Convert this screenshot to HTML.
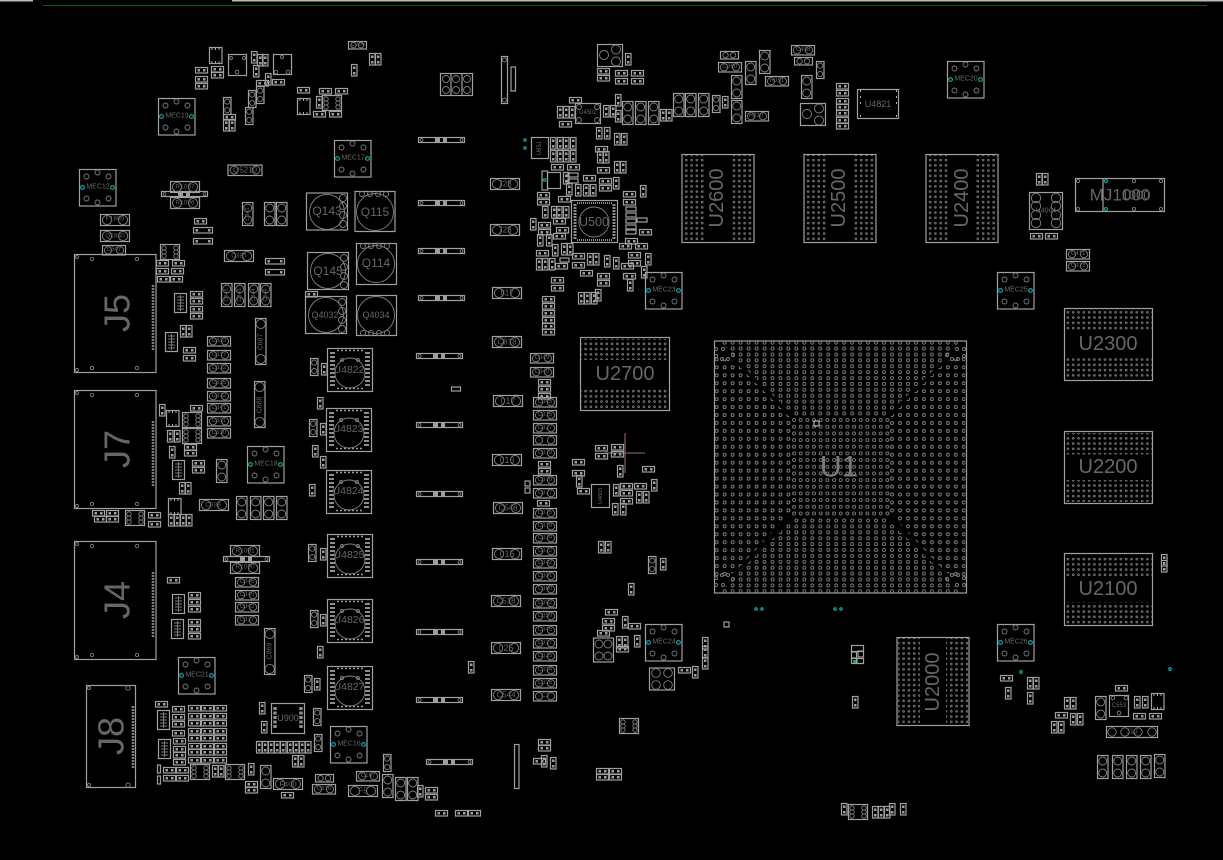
<!DOCTYPE html>
<html><head><meta charset="utf-8"><title>PCB layout</title>
<style>
html,body{margin:0;padding:0;background:#000;width:1223px;height:860px;overflow:hidden}
svg{display:block}
text{font-family:"Liberation Sans",sans-serif;fill:#676767;text-anchor:middle;dominant-baseline:central}
.s{fill:none;stroke:#a0a0a0;stroke-width:1.2}
.n{fill:none;stroke:#808080;stroke-width:.9}
.p{fill:#9e9e9e;stroke:none}
.tl{fill:none;stroke:#0b9a98;stroke-width:1.3}
</style></head><body>
<svg width="1223" height="860" viewBox="0 0 1223 860" xmlns="http://www.w3.org/2000/svg">
<defs>
<g id="h"><rect x=".5" y=".5" width="12" height="5.5" class="s"/><rect x="2.5" y="2" width="2.5" height="2.5" class="p"/><rect x="8" y="2" width="2.5" height="2.5" class="p"/></g>
<g id="v"><rect x=".5" y=".5" width="5.5" height="11.5" class="s"/><rect x="2" y="2.5" width="2.5" height="2.5" class="p"/><rect x="2" y="8" width="2.5" height="2.5" class="p"/></g>
<g id="u"><rect x=".5" y=".5" width="7.5" height="17" class="s"/><circle cx="4.2" cy="4.6" r="2.6" class="n"/><circle cx="4.2" cy="13" r="2.6" class="n"/></g>
<g id="w"><rect x=".5" y=".5" width="19" height="5.5" class="s"/><rect x="2.5" y="2" width="2.5" height="2.5" class="p"/><rect x="15" y="2" width="2.5" height="2.5" class="p"/></g>
<g id="t"><rect x=".5" y=".5" width="10.5" height="23" class="s"/><circle cx="5.7" cy="6" r="4" class="n"/><circle cx="5.7" cy="18" r="4" class="n"/></g>
<g id="c"><rect x=".5" y=".5" width="23" height="9.5" class="s"/><circle cx="6" cy="5.2" r="3.6" class="n"/><circle cx="18" cy="5.2" r="3.6" class="n"/></g>
<g id="C"><rect x=".5" y=".5" width="29" height="11" class="s"/><circle cx="7" cy="6" r="4.6" class="n"/><circle cx="23" cy="6" r="4.6" class="n"/></g>
<g id="f"><rect x=".5" y=".5" width="18" height="7.5" class="s"/><circle cx="5.5" cy="4.2" r="2.7" class="n"/><circle cx="13" cy="4.2" r="2.7" class="n"/></g>
<g id="T"><rect x=".5" y=".5" width="10.5" height="46" class="s"/><circle cx="5.7" cy="6" r="4.6" class="n"/><circle cx="5.7" cy="41" r="4.6" class="n"/></g>
<g id="l"><rect x=".5" y=".5" width="46" height="5" class="s"/><circle cx="3.5" cy="3" r="1.4" class="n"/><circle cx="43.5" cy="3" r="1.4" class="n"/><rect x="17" y="1" width="5" height="4" class="p"/><rect x="25" y="1" width="4" height="4" class="p"/></g>
<g id="i"><rect x=".5" y=".5" width="19" height="15" class="s"/><circle cx="4" cy="4" r="2.2" class="n"/><circle cx="4" cy="8" r="2.2" class="n"/><circle cx="4" cy="12" r="2.2" class="n"/><circle cx="16" cy="4" r="2.2" class="n"/><circle cx="16" cy="8" r="2.2" class="n"/><circle cx="16" cy="12" r="2.2" class="n"/></g>
<g id="j"><rect x=".5" y=".5" width="12" height="19" class="s"/><path d="M3 4h7M3 7h7M3 10h7M3 13h7M3 16h7M6.5 2v16" class="n"/></g>
<g id="o"><rect x=".5" y=".5" width="12.5" height="16" class="s"/><path d="M3 1v2M6.5 1v2M10 1v2M3 14v2M6.5 14v2M10 14v2" stroke="#aaa" fill="none"/></g>
<g id="m"><rect x=".5" y=".5" width="36.5" height="36.5" class="s"/><circle cx="7.5" cy="7.5" r="2.5" class="n"/><circle cx="18.5" cy="3.5" r="2.5" class="n"/><circle cx="29.5" cy="7.5" r="2.5" class="n"/><circle cx="7.5" cy="29.5" r="2.5" class="n"/><circle cx="18.5" cy="33.5" r="2.5" class="n"/><circle cx="29.5" cy="29.5" r="2.5" class="n"/><circle cx="3.5" cy="18.5" r="1.9" class="tl"/><circle cx="33.5" cy="18.5" r="1.9" class="tl"/></g>
<g id="q"><rect x=".5" y=".5" width="45" height="43" class="s"/><circle cx="23" cy="25" r="15" class="n"/><circle cx="15" cy="12" r="1.5" class="n"/><circle cx="31" cy="12" r="1.5" class="n"/><path d="M3 5h5M3 9h5M3 13h5M3 17h5M3 21h5M3 25h5M3 29h5M3 33h5M3 37h5M38 5h5M38 9h5M38 13h5M38 17h5M38 21h5M38 25h5M38 29h5M38 33h5M38 37h5" stroke="#8e8e8e" stroke-width="2" fill="none"/><path d="M10 2.5h26M10 40.5h26" stroke="#9a9a9a" stroke-width="1.5" stroke-dasharray="2 2" fill="none"/></g>
<g id="b"><rect x=".5" y=".5" width="25" height="22" class="s"/><circle cx="7" cy="11" r="4.5" class="n"/><circle cx="19" cy="5.5" r="4.5" class="n"/><circle cx="19" cy="17.5" r="4.5" class="n"/></g>
<g id="J"><rect x=".5" y=".5" width="81.5" height="118" class="s"/><circle cx="3" cy="3" r="1.5" class="n"/><circle cx="18" cy="5" r="1.7" class="n"/><circle cx="63" cy="5" r="1.7" class="n"/><circle cx="3" cy="116" r="1.5" class="n"/><circle cx="18" cy="114" r="1.7" class="n"/><circle cx="63" cy="114" r="1.7" class="n"/><path d="M79 31v66" stroke="#808080" stroke-width="2.6" stroke-dasharray="2 1" fill="none"/></g>
<pattern id="d" width="5.3" height="5.25" patternUnits="userSpaceOnUse"><circle cx="2.6" cy="2.6" r="1" fill="#3a3a3a" stroke="#949494" stroke-width=".6"/></pattern>
<pattern id="pa" x="712.7" y="419" width="7.97" height="7.95" patternUnits="userSpaceOnUse"><circle cx="3.98" cy="3.98" r="1.5" fill="none" stroke="#808080" stroke-width=".9"/></pattern>
<pattern id="pb" x="712.7" y="339.7" width="7.97" height="5.9" patternUnits="userSpaceOnUse"><circle cx="3.98" cy="2.95" r="1.5" fill="none" stroke="#808080" stroke-width=".9"/></pattern>
<pattern id="pb2" x="712.7" y="588.35" width="7.97" height="5.9" patternUnits="userSpaceOnUse"><circle cx="3.98" cy="2.95" r="1.5" fill="none" stroke="#808080" stroke-width=".9"/></pattern>
<pattern id="pc" x="790.7" y="416.7" width="6.67" height="6.67" patternUnits="userSpaceOnUse"><circle cx="3.33" cy="3.33" r="1.5" fill="none" stroke="#808080" stroke-width=".9"/></pattern>
<g id="k"><circle cx="716" cy="349" r="1.5" class="n"/><circle cx="723" cy="349" r="1.5" class="n"/><circle cx="716" cy="356" r="1.5" class="n"/><circle cx="722" cy="359" r="1.5" class="n"/><circle cx="728" cy="359" r="1.5" class="n"/><circle cx="733" cy="355" r="1.5" class="n"/></g>
</defs>
<rect width="1223" height="860" fill="#000"/>
<rect x="0" y="0" width="33" height="1.5" fill="#bbb"/><rect x="232" y="0" width="991" height="1.5" fill="#bbb"/><rect x="43" y="5" width="1164" height="1" fill="#0d5a12"/>

<!-- U1 -->
<rect x="714.5" y="341" width="252" height="252" class="s"/>
<polygon points="714.7,355 735,362 790.7,418 790.7,512.7 735,572 714.7,580" fill="url(#pa)"/>
<polygon points="965.3,355 945,362 889.3,418 889.3,512.7 945,572 965.3,580" fill="url(#pa)"/>
<polygon points="720,341 960,341 945,359 885,417 795,417 736.7,360" fill="url(#pb)"/>
<polygon points="720,593 960,593 945,575 885,517 795,517 736.7,574" fill="url(#pb2)"/>
<rect x="791" y="417" width="99" height="100" fill="url(#pc)"/>
<use href="#k"/><use href="#k" transform="translate(1680 0) scale(-1 1)"/><use href="#k" transform="translate(0 934) scale(1 -1)"/><use href="#k" transform="translate(1680 934) scale(-1 -1)"/>
<rect x="814" y="421" width="5" height="5" fill="none" stroke="#ccc"/>
<text x="839" y="467" font-size="30" style="fill:#7a7a7a">U1</text>

<!-- memory -->
<rect x="580.5" y="337.5" width="89" height="73" class="s"/><rect x="581" y="339" width="88" height="21" fill="url(#d)"/><rect x="581" y="387" width="88" height="22" fill="url(#d)"/><text x="625" y="374" font-size="20">U2700</text>
<rect x="1064.5" y="308.5" width="88" height="72" class="s"/><rect x="1065" y="310" width="87" height="21.5" fill="url(#d)"/><rect x="1065" y="357" width="87" height="22" fill="url(#d)"/><text x="1108" y="344" font-size="20">U2300</text>
<rect x="1064.5" y="431.5" width="88" height="72" class="s"/><rect x="1065" y="433" width="87" height="21.5" fill="url(#d)"/><rect x="1065" y="480" width="87" height="22" fill="url(#d)"/><text x="1108" y="467" font-size="20">U2200</text>
<rect x="1064.5" y="553.5" width="88" height="72" class="s"/><rect x="1065" y="555" width="87" height="21.5" fill="url(#d)"/><rect x="1065" y="602" width="87" height="22" fill="url(#d)"/><text x="1108" y="589" font-size="20">U2100</text>
<rect x="682" y="154.5" width="72" height="88" class="s"/><rect x="683" y="155" width="22" height="87" fill="url(#d)"/><rect x="731" y="155" width="22" height="87" fill="url(#d)"/><text transform="translate(717 198) rotate(-90)" font-size="20">U2600</text>
<rect x="804" y="154.5" width="72" height="88" class="s"/><rect x="805" y="155" width="22" height="87" fill="url(#d)"/><rect x="853" y="155" width="22" height="87" fill="url(#d)"/><text transform="translate(839 198) rotate(-90)" font-size="20">U2500</text>
<rect x="926" y="154.5" width="72" height="88" class="s"/><rect x="927" y="155" width="22" height="87" fill="url(#d)"/><rect x="975" y="155" width="22" height="87" fill="url(#d)"/><text transform="translate(962 198) rotate(-90)" font-size="20">U2400</text>
<rect x="897" y="637.5" width="72" height="88" class="s"/><rect x="898" y="638" width="22" height="87" fill="url(#d)"/><rect x="946" y="638" width="22" height="87" fill="url(#d)"/><text transform="translate(933 682) rotate(-90)" font-size="20">U2000</text>

<!-- connectors -->
<use href="#J" x="74" y="254"/><text transform="translate(117 313) rotate(-90)" font-size="36">J5</text>
<use href="#J" x="74" y="390"/><text transform="translate(117 449) rotate(-90)" font-size="36">J7</text>
<use href="#J" x="74" y="541"/><text transform="translate(117 600) rotate(-90)" font-size="36">J4</text>
<rect x="86.5" y="685.5" width="49" height="102" class="s"/><circle cx="89" cy="688" r="1.5" class="n"/><circle cx="128" cy="688" r="2.2" class="n"/><circle cx="89" cy="785" r="1.5" class="n"/><circle cx="128" cy="785" r="2.2" class="n"/><path d="M133 706v62" stroke="#808080" stroke-width="2.6" stroke-dasharray="2 1" fill="none"/><text transform="translate(111 736) rotate(-90)" font-size="36">J8</text>

<!-- MEC -->
<use href="#m" x="158" y="98"/><text x="177" y="116" font-size="7">MEC19</text>
<use href="#m" x="334" y="140"/><text x="353" y="158" font-size="7">MEC17</text>
<use href="#m" x="79" y="169"/><text x="98" y="187" font-size="7">MEC12</text>
<use href="#m" x="247" y="446"/><text x="266" y="464" font-size="7">MEC18</text>
<use href="#m" x="178" y="657"/><text x="197" y="675" font-size="7">MEC21</text>
<use href="#m" x="330" y="726"/><text x="349" y="744" font-size="7">MEC16</text>
<use href="#m" x="645" y="272"/><text x="664" y="290" font-size="7">MEC23</text>
<use href="#m" x="997" y="272"/><text x="1016" y="290" font-size="7">MEC25</text>
<use href="#m" x="947" y="61"/><text x="966" y="79" font-size="7">MEC20</text>
<use href="#m" x="645" y="624"/><text x="664" y="642" font-size="7">MEC24</text>
<use href="#m" x="997" y="624"/><text x="1016" y="642" font-size="7">MEC26</text>

<!-- inductors -->
<rect x="306.5" y="193" width="41" height="37" class="s"/><circle cx="327" cy="212" r="17.5" class="n"/><circle cx="343" cy="198" r="3.5" class="n"/><circle cx="343" cy="206" r="3.5" class="n"/><circle cx="343" cy="215" r="3.5" class="n"/><circle cx="343" cy="224" r="3.5" class="n"/><text x="327" y="211" font-size="12">Q143</text>
<rect x="355" y="191.5" width="40" height="40" class="s"/><circle cx="375" cy="212" r="18.5" class="n"/><circle cx="362" cy="194" r="2.5" class="n"/><circle cx="370" cy="194" r="2.5" class="n"/><circle cx="378" cy="194" r="2.5" class="n"/><circle cx="386" cy="194" r="2.5" class="n"/><text x="375" y="212" font-size="12">Q115</text>
<rect x="307.5" y="252.5" width="41" height="37" class="s"/><circle cx="328" cy="271" r="17.5" class="n"/><circle cx="344" cy="258" r="3.5" class="n"/><circle cx="344" cy="267" r="3.5" class="n"/><circle cx="344" cy="276" r="3.5" class="n"/><circle cx="344" cy="285" r="3.5" class="n"/><text x="328" y="271" font-size="12">Q145</text>
<rect x="356.5" y="243.5" width="40" height="41" class="s"/><circle cx="376" cy="264" r="18.5" class="n"/><circle cx="363" cy="246" r="2.5" class="n"/><circle cx="371" cy="246" r="2.5" class="n"/><circle cx="379" cy="246" r="2.5" class="n"/><circle cx="387" cy="246" r="2.5" class="n"/><text x="376" y="263" font-size="12">Q114</text>
<rect x="305.5" y="296.5" width="41" height="37" class="s"/><circle cx="326" cy="315" r="17.5" class="n"/><circle cx="342" cy="302" r="3.5" class="n"/><circle cx="342" cy="311" r="3.5" class="n"/><circle cx="342" cy="320" r="3.5" class="n"/><circle cx="342" cy="329" r="3.5" class="n"/><text x="325" y="315" font-size="9">Q4032</text>
<rect x="356.5" y="295.5" width="40" height="40" class="s"/><circle cx="376" cy="315" r="18.5" class="n"/><circle cx="363" cy="333" r="2.5" class="n"/><circle cx="371" cy="333" r="2.5" class="n"/><circle cx="379" cy="333" r="2.5" class="n"/><circle cx="387" cy="333" r="2.5" class="n"/><text x="376" y="315" font-size="9">Q4034</text>

<use href="#q" x="327" y="348"/><text x="349" y="370" font-size="10.5">U4822</text>
<use href="#q" x="326" y="408"/><text x="348" y="429" font-size="10.5">U4823</text>
<use href="#q" x="326" y="470"/><text x="348" y="491" font-size="10.5">U4824</text>
<use href="#q" x="327" y="534"/><text x="349" y="555" font-size="10.5">U4825</text>
<use href="#q" x="327" y="599"/><text x="349" y="620" font-size="10.5">U4826</text>
<use href="#q" x="327" y="666"/><text x="349" y="687" font-size="10.5">U4827</text>

<!-- long bars -->
<use href="#l" x="418" y="137"/><use href="#l" x="418" y="200"/><use href="#l" x="418" y="248"/><use href="#l" x="418" y="295"/>
<use href="#l" x="416" y="353"/><use href="#l" x="416" y="422"/><use href="#l" x="416" y="491"/><use href="#l" x="416" y="559"/><use href="#l" x="416" y="629"/><use href="#l" x="416" y="697"/>
<use href="#l" x="426" y="759"/>
<use href="#l" x="161" y="191"/><use href="#l" x="223" y="556"/>

<!-- cap column x491 -->
<use href="#C" x="490" y="178"/><text x="505" y="184" font-size="8">728</text>
<use href="#C" x="490" y="224"/><text x="505" y="230" font-size="8">728</text>
<use href="#C" x="492" y="287"/><text x="507" y="293" font-size="8">817</text>
<use href="#C" x="492" y="336"/><text x="507" y="342" font-size="8">C818</text>
<use href="#C" x="493" y="395"/><text x="508" y="401" font-size="9">017</text>
<use href="#C" x="492" y="454"/><text x="507" y="460" font-size="9">016</text>
<use href="#C" x="493" y="502"/><text x="508" y="508" font-size="8">C548</text>
<use href="#C" x="492" y="548"/><text x="507" y="554" font-size="9">015</text>
<use href="#C" x="491" y="595"/><text x="506" y="601" font-size="8">C518</text>
<use href="#C" x="491" y="642"/><text x="506" y="648" font-size="9">025</text>
<use href="#C" x="491" y="689"/><text x="506" y="695" font-size="8">C544</text>

<!-- cap column x533 -->
<use href="#c" x="530" y="353"/><text x="542" y="358" font-size="6">C349</text>
<use href="#c" x="530" y="367"/><text x="542" y="372" font-size="6">C340</text>
<use href="#c" x="533" y="397"/><use href="#c" x="533" y="410"/><use href="#c" x="533" y="423"/><use href="#c" x="533" y="435"/><use href="#c" x="533" y="448"/>
<use href="#c" x="533" y="475"/><use href="#c" x="533" y="488"/><use href="#c" x="533" y="508"/><use href="#c" x="533" y="521"/><use href="#c" x="533" y="533"/><use href="#c" x="533" y="546"/><use href="#c" x="533" y="558"/><use href="#c" x="533" y="571"/><use href="#c" x="533" y="584"/><use href="#c" x="533" y="598"/><use href="#c" x="533" y="611"/><use href="#c" x="533" y="625"/><use href="#c" x="533" y="638"/><use href="#c" x="533" y="651"/><use href="#c" x="533" y="665"/><use href="#c" x="533" y="678"/><use href="#c" x="533" y="691"/>
<text x="545" y="402" font-size="6">C345</text><text x="545" y="415" font-size="6">C315</text><text x="545" y="428" font-size="6">C327</text><text x="545" y="453" font-size="6">C379</text><text x="545" y="480" font-size="6">C378</text><text x="545" y="493" font-size="6">C377</text><text x="545" y="513" font-size="6">C375</text><text x="545" y="526" font-size="6">C319</text><text x="545" y="538" font-size="6">C374</text><text x="545" y="551" font-size="6">C372</text><text x="545" y="563" font-size="6">C342</text><text x="545" y="576" font-size="6">C301</text><text x="545" y="589" font-size="6">C360</text><text x="545" y="603" font-size="6">C302</text><text x="545" y="616" font-size="6">C359</text><text x="545" y="630" font-size="6">C345</text><text x="545" y="643" font-size="6">C337</text><text x="545" y="656" font-size="6">C335</text><text x="545" y="670" font-size="6">C334</text><text x="545" y="683" font-size="6">C326</text><text x="545" y="696" font-size="6">C3</text>
<use href="#h" x="542" y="296"/><use href="#h" x="542" y="303"/><use href="#h" x="542" y="310"/><use href="#h" x="542" y="317"/><use href="#h" x="542" y="323"/><use href="#h" x="542" y="329"/>
<use href="#h" x="538" y="379"/><use href="#h" x="538" y="386"/><use href="#h" x="538" y="393"/><use href="#h" x="538" y="461"/><use href="#h" x="538" y="468"/><use href="#h" x="537" y="500"/>
<rect x="451.5" y="387" width="9" height="4" class="s"/>
<rect x="525" y="481" width="5" height="5" class="s"/><rect x="525" y="488" width="5" height="5" class="s"/>
<use href="#v" x="468" y="661"/>

<!-- left cluster -->
<use href="#o" x="209" y="47"/>
<rect x="228.5" y="54.5" width="18" height="21" class="s"/><circle cx="231" cy="58" r="1.5" class="n"/><circle cx="244" cy="58" r="1.5" class="n"/><circle cx="237" cy="72" r="1.8" class="n"/>
<rect x="273.5" y="54.5" width="18" height="20" class="s"/><circle cx="282" cy="57" r="1.5" class="n"/><circle cx="276" cy="72" r="1.8" class="n"/><circle cx="288" cy="72" r="1.8" class="n"/>
<use href="#v" x="251" y="51"/><use href="#v" x="257" y="54"/><use href="#v" x="262" y="54"/><use href="#v" x="253" y="65"/><use href="#v" x="265" y="73"/><use href="#h" x="256" y="80"/><use href="#h" x="272" y="79"/>
<use href="#h" x="195" y="67"/><use href="#h" x="195" y="76"/><use href="#h" x="195" y="83"/><use href="#h" x="211" y="66"/><use href="#h" x="211" y="72"/>
<use href="#u" x="248" y="90"/><use href="#u" x="256" y="86"/><use href="#u" x="245" y="107"/><use href="#u" x="223" y="97"/><use href="#h" x="223" y="114"/><use href="#v" x="223" y="119"/><use href="#v" x="229" y="119"/>
<use href="#h" x="297" y="87"/><use href="#o" x="297" y="98"/><use href="#v" x="316" y="96"/><use href="#h" x="319" y="88"/><use href="#h" x="335" y="88"/><use href="#i" x="322" y="95"/><use href="#h" x="313" y="111"/><use href="#h" x="329" y="111"/>
<use href="#f" x="348" y="41"/><text x="358" y="45" font-size="6">C200</text><use href="#v" x="369" y="53"/><use href="#v" x="375" y="53"/><use href="#v" x="351" y="64"/>
<rect x="228" y="165" width="34" height="10.5" class="s"/><circle cx="234" cy="170" r="4" class="n"/><circle cx="256" cy="170" r="4" class="n"/><text x="245" y="170" font-size="8">Q5210</text>
<use href="#C" x="170" y="181"/><text x="185" y="187" font-size="6.5">R1097</text><use href="#C" x="170" y="197"/><text x="185" y="203" font-size="6.5">R1096</text>
<use href="#C" x="100" y="214"/><text x="115" y="219" font-size="6.5">F1800</text><use href="#C" x="100" y="230"/><text x="115" y="236" font-size="6.5">Q1840</text><use href="#c" x="102" y="245"/><text x="114" y="250" font-size="6">C347</text>
<use href="#t" x="242" y="202"/><text transform="translate(248 214) rotate(-90)" font-size="5.5">C842</text><use href="#t" x="264" y="202"/><use href="#t" x="276" y="202"/>
<use href="#h" x="194" y="218"/><use href="#w" x="193" y="227"/><use href="#w" x="193" y="238"/>
<use href="#i" x="160" y="244"/><use href="#h" x="156" y="260"/><use href="#h" x="172" y="260"/><use href="#h" x="156" y="268"/><use href="#h" x="171" y="268"/><use href="#h" x="157" y="276"/><use href="#h" x="170" y="276"/>
<use href="#j" x="174" y="293"/><use href="#h" x="190" y="291"/><use href="#h" x="190" y="298"/><use href="#h" x="190" y="306"/><use href="#h" x="190" y="313"/>
<use href="#C" x="224" y="250"/><text x="239" y="256" font-size="6.5">C385</text><use href="#w" x="265" y="258"/><use href="#w" x="265" y="269"/>
<use href="#t" x="221" y="283"/><text transform="translate(227 295) rotate(-90)" font-size="5.5">C845</text><use href="#t" x="234" y="283"/><text transform="translate(240 295) rotate(-90)" font-size="5.5">C848</text><use href="#t" x="248" y="283"/><text transform="translate(254 295) rotate(-90)" font-size="5.5">C844</text><use href="#t" x="260" y="283"/><text transform="translate(266 295) rotate(-90)" font-size="5.5">C846</text>
<use href="#j" x="165" y="332"/><use href="#v" x="180" y="325"/><use href="#v" x="186" y="325"/><use href="#h" x="183" y="347"/><use href="#h" x="183" y="355"/>
<use href="#T" x="255" y="318"/><text transform="translate(261 342) rotate(-90)" font-size="7">C687</text>
<use href="#T" x="254" y="381"/><text transform="translate(260 405) rotate(-90)" font-size="7">C688</text>
<use href="#T" x="264" y="628"/><text transform="translate(270 651) rotate(-90)" font-size="7">C869</text>
<use href="#c" x="207" y="336"/><use href="#c" x="207" y="350"/><use href="#c" x="207" y="363"/><use href="#c" x="207" y="378"/><use href="#c" x="207" y="391"/><use href="#c" x="207" y="403"/><use href="#c" x="207" y="416"/><use href="#c" x="207" y="428"/>
<text x="219" y="341" font-size="6">C333</text><text x="219" y="355" font-size="6">C317</text><text x="219" y="368" font-size="6">C332</text><text x="219" y="383" font-size="6">C335</text><text x="219" y="396" font-size="6">C332</text><text x="219" y="408" font-size="6">C341</text><text x="219" y="421" font-size="6">C331</text><text x="219" y="433" font-size="6">C330</text>
<use href="#h" x="305" y="291"/>
<use href="#u" x="310" y="358"/><use href="#v" x="321" y="363"/><use href="#v" x="317" y="397"/><use href="#u" x="309" y="419"/><use href="#v" x="320" y="423"/><use href="#v" x="312" y="445"/><use href="#v" x="320" y="456"/><use href="#v" x="309" y="484"/><use href="#u" x="308" y="544"/><use href="#v" x="320" y="548"/><use href="#u" x="310" y="610"/><use href="#v" x="320" y="614"/><use href="#v" x="317" y="646"/>

<use href="#v" x="159" y="404"/><use href="#h" x="190" y="405"/><use href="#o" x="166" y="410"/><use href="#i" x="182" y="412"/><use href="#i" x="182" y="428"/><use href="#v" x="167" y="430"/><use href="#v" x="174" y="430"/><use href="#v" x="169" y="446"/><use href="#h" x="184" y="444"/><use href="#h" x="184" y="450"/><use href="#j" x="172" y="460"/><use href="#h" x="192" y="460"/><use href="#h" x="192" y="467"/><use href="#t" x="216" y="459"/><use href="#v" x="179" y="482"/><use href="#v" x="185" y="482"/><use href="#o" x="168" y="498"/>
<use href="#C" x="199" y="499"/><text x="213" y="505" font-size="6.5">C838</text>
<use href="#h" x="92" y="510"/><use href="#h" x="106" y="510"/><use href="#h" x="94" y="516"/><use href="#h" x="106" y="516"/><use href="#i" x="125" y="510"/><use href="#h" x="148" y="512"/><use href="#h" x="148" y="521"/>
<use href="#v" x="168" y="514"/><use href="#v" x="174" y="514"/><use href="#v" x="180" y="514"/><use href="#v" x="186" y="514"/>
<use href="#t" x="236" y="496"/><use href="#t" x="250" y="496"/><use href="#t" x="263" y="496"/><use href="#t" x="276" y="496"/>
<use href="#C" x="230" y="545"/><text x="245" y="551" font-size="6.5">R1091</text><use href="#C" x="230" y="562"/><text x="245" y="567" font-size="6.5">R1090</text>
<use href="#c" x="235" y="577"/><use href="#c" x="235" y="590"/><use href="#c" x="235" y="602"/><use href="#c" x="235" y="615"/>
<text x="247" y="582" font-size="6">C346</text><text x="247" y="595" font-size="6">C345</text><text x="247" y="607" font-size="6">C342</text><text x="247" y="620" font-size="6">C337</text>
<use href="#h" x="167" y="577"/><use href="#j" x="172" y="594"/><use href="#j" x="171" y="619"/><use href="#h" x="188" y="592"/><use href="#h" x="188" y="599"/><use href="#h" x="188" y="606"/><use href="#h" x="188" y="619"/><use href="#h" x="188" y="626"/><use href="#h" x="188" y="633"/>

<!-- bottom-left -->
<use href="#h" x="155" y="701"/><use href="#h" x="172" y="706"/><use href="#h" x="172" y="714"/><use href="#j" x="157" y="710"/><use href="#h" x="172" y="721"/><use href="#h" x="172" y="730"/><use href="#j" x="158" y="739"/><use href="#h" x="173" y="738"/><use href="#h" x="173" y="746"/><use href="#h" x="173" y="752"/><use href="#h" x="173" y="759"/>
<use href="#h" x="188" y="705"/><use href="#h" x="201" y="705"/><use href="#h" x="214" y="705"/><use href="#h" x="188" y="713"/><use href="#h" x="201" y="713"/><use href="#h" x="214" y="713"/><use href="#h" x="188" y="720"/><use href="#h" x="201" y="720"/><use href="#h" x="214" y="720"/><use href="#h" x="188" y="728"/><use href="#h" x="201" y="728"/><use href="#h" x="214" y="728"/><use href="#h" x="188" y="735"/><use href="#h" x="201" y="735"/><use href="#h" x="214" y="735"/><use href="#h" x="188" y="743"/><use href="#h" x="201" y="743"/><use href="#h" x="214" y="743"/><use href="#h" x="188" y="749"/><use href="#h" x="201" y="749"/><use href="#h" x="214" y="749"/><use href="#h" x="188" y="757"/><use href="#h" x="201" y="757"/><use href="#h" x="214" y="757"/>
<rect x="157.5" y="765" width="3" height="8" class="s"/><rect x="157.5" y="776" width="3" height="8" class="s"/>
<use href="#h" x="163" y="767"/><use href="#h" x="176" y="767"/><use href="#h" x="163" y="775"/><use href="#h" x="176" y="775"/>
<use href="#i" x="190" y="764"/><use href="#i" x="225" y="764"/><use href="#v" x="212" y="765"/><use href="#v" x="218" y="765"/><use href="#v" x="248" y="763"/><use href="#t" x="260" y="765"/><use href="#h" x="245" y="781"/><use href="#h" x="245" y="787"/>
<use href="#C" x="273" y="778"/><text x="288" y="784" font-size="7.5">F400</text><use href="#h" x="281" y="792"/>
<use href="#f" x="315" y="774"/><use href="#c" x="312" y="784"/><text x="324" y="789" font-size="6">C316</text>
<use href="#C" x="348" y="785"/><text x="363" y="791" font-size="8">F5</text><use href="#c" x="356" y="771"/><text x="368" y="776" font-size="6">C167</text>
<rect x="271.5" y="703.5" width="33" height="30" class="s"/><path d="M275 707v22M301 707v22" stroke="#8e8e8e" stroke-width="3.5" stroke-dasharray="3 1.5" fill="none"/><text x="288" y="718" font-size="9">U900</text>
<use href="#v" x="259" y="702"/><use href="#v" x="261" y="721"/><use href="#u" x="304" y="675"/><use href="#v" x="314" y="678"/><use href="#u" x="313" y="708"/><use href="#u" x="314" y="734"/>
<use href="#v" x="256" y="741"/><use href="#v" x="262" y="741"/><use href="#v" x="268" y="741"/><use href="#v" x="274" y="741"/><use href="#v" x="280" y="741"/><use href="#v" x="287" y="741"/><use href="#v" x="293" y="741"/><use href="#v" x="299" y="741"/><use href="#v" x="305" y="741"/>
<use href="#v" x="292" y="755"/><use href="#v" x="298" y="755"/>
<use href="#u" x="383" y="754"/><use href="#t" x="382" y="774"/><use href="#t" x="395" y="777"/><use href="#t" x="407" y="777"/><use href="#v" x="417" y="785"/><use href="#h" x="425" y="787"/><use href="#h" x="425" y="794"/><use href="#h" x="435" y="810"/><use href="#h" x="455" y="810"/><use href="#h" x="468" y="810"/>

<!-- centre bottom -->
<rect x="514.5" y="744.5" width="4.5" height="44" class="s"/><use href="#h" x="538" y="739"/><use href="#h" x="538" y="745"/><use href="#h" x="533" y="758"/><use href="#v" x="541" y="755"/><use href="#v" x="550" y="757"/>
<use href="#h" x="596" y="768"/><use href="#h" x="609" y="768"/><use href="#h" x="596" y="774"/><use href="#h" x="609" y="774"/><use href="#i" x="619" y="718"/>

<!-- U500 region -->
<use href="#b" x="597" y="44"/><use href="#v" x="625" y="53"/><use href="#h" x="597" y="68"/><use href="#h" x="597" y="75"/><use href="#h" x="615" y="70"/><use href="#h" x="615" y="78"/><use href="#h" x="631" y="70"/><use href="#h" x="631" y="78"/>
<rect x="501.5" y="56.5" width="6" height="47" class="s"/><circle cx="504.5" cy="60" r="2" class="n"/><circle cx="504.5" cy="100" r="2" class="n"/><rect x="511" y="67" width="4.5" height="24" class="s"/>
<rect x="440.5" y="73.5" width="32" height="22" class="s"/><path d="M451 74v22M462 74v22" class="s"/><circle cx="446" cy="79" r="3.5" class="n"/><circle cx="446" cy="90" r="3.5" class="n"/><circle cx="456" cy="79" r="3.5" class="n"/><circle cx="456" cy="90" r="3.5" class="n"/><circle cx="467" cy="79" r="3.5" class="n"/><circle cx="467" cy="90" r="3.5" class="n"/>
<use href="#h" x="569" y="97"/><use href="#v" x="557" y="106"/><use href="#v" x="563" y="106"/><use href="#v" x="569" y="106"/>
<rect x="575.5" y="103.5" width="25" height="20" class="s"/><circle cx="579" cy="107" r="2.5" class="n"/><circle cx="597" cy="107" r="2.5" class="n"/><circle cx="579" cy="120" r="2.5" class="n"/><circle cx="597" cy="120" r="2.5" class="n"/><text x="588" y="113" font-size="6">U4502</text>
<use href="#h" x="559" y="121"/><use href="#v" x="603" y="105"/><use href="#v" x="610" y="105"/><use href="#v" x="615" y="94"/><use href="#v" x="615" y="110"/><use href="#t" x="622" y="101"/><use href="#t" x="635" y="101"/><use href="#t" x="648" y="101"/><use href="#v" x="660" y="109"/><use href="#v" x="666" y="109"/>
<use href="#v" x="596" y="127"/><use href="#v" x="604" y="127"/><use href="#v" x="614" y="133"/><use href="#v" x="621" y="133"/>
<rect x="531.5" y="137.5" width="17" height="21" class="s"/><text transform="translate(540 148) rotate(-90)" font-size="6">U851</text>
<use href="#v" x="550" y="137"/><use href="#v" x="557" y="137"/><use href="#v" x="563" y="137"/><use href="#v" x="570" y="137"/><use href="#v" x="550" y="150"/><use href="#v" x="557" y="150"/><use href="#v" x="563" y="150"/><use href="#v" x="570" y="150"/>
<use href="#h" x="595" y="146"/><use href="#v" x="597" y="151"/><use href="#v" x="603" y="151"/><use href="#v" x="620" y="161"/><use href="#v" x="614" y="161"/><use href="#h" x="551" y="164"/><use href="#h" x="567" y="164"/><use href="#h" x="597" y="167"/>
<rect x="542" y="171" width="5.5" height="19" class="s"/><rect x="547.5" y="172.5" width="13" height="16" class="s"/><rect x="568" y="173" width="10" height="4" class="s"/><rect x="568" y="179" width="10" height="4" class="s"/><use href="#v" x="563" y="172"/><use href="#h" x="583" y="175"/><use href="#v" x="566" y="183"/><use href="#h" x="537" y="192"/><use href="#h" x="537" y="199"/><use href="#h" x="558" y="196"/><use href="#v" x="575" y="184"/><use href="#v" x="583" y="184"/><use href="#v" x="590" y="184"/>
<use href="#h" x="599" y="178"/><use href="#h" x="599" y="185"/><use href="#v" x="613" y="177"/><use href="#v" x="640" y="185"/><use href="#h" x="623" y="191"/><use href="#h" x="623" y="199"/>
<use href="#v" x="542" y="206"/><use href="#v" x="551" y="206"/><use href="#v" x="556" y="206"/><use href="#v" x="563" y="206"/>
<rect x="571.5" y="200.5" width="46" height="42" class="s"/><circle cx="594" cy="222" r="15" class="n"/><path d="M575 204v35M614 204v35" stroke="#8e8e8e" stroke-width="3" stroke-dasharray="2 1" fill="none"/><path d="M577 203h35M577 240h35" stroke="#8e8e8e" stroke-width="2" stroke-dasharray="1 1" fill="none"/><text x="594" y="222" font-size="12.5">U500</text>
<rect x="626" y="207" width="10" height="4" class="s"/><rect x="626" y="213" width="10" height="4" class="s"/><rect x="626" y="219" width="10" height="4" class="s"/><rect x="626" y="225" width="10" height="4" class="s"/><rect x="626" y="230" width="10" height="4" class="s"/><rect x="637" y="218" width="10" height="4" class="s"/>
<use href="#h" x="639" y="229"/><use href="#h" x="625" y="238"/><use href="#h" x="619" y="243"/><use href="#h" x="635" y="243"/>
<use href="#v" x="530" y="218"/><use href="#h" x="538" y="222"/><use href="#h" x="538" y="229"/><use href="#h" x="553" y="218"/><use href="#h" x="556" y="227"/><use href="#h" x="553" y="233"/><use href="#v" x="537" y="234"/><use href="#v" x="546" y="234"/><use href="#v" x="552" y="244"/><use href="#v" x="561" y="243"/><use href="#v" x="567" y="243"/><use href="#h" x="536" y="250"/><use href="#v" x="536" y="258"/><use href="#v" x="542" y="258"/><use href="#v" x="549" y="258"/>
<rect x="560" y="258" width="9" height="4" class="s"/><use href="#h" x="555" y="263"/><use href="#h" x="572" y="253"/><use href="#h" x="572" y="262"/><use href="#v" x="587" y="253"/><use href="#v" x="593" y="253"/><use href="#h" x="580" y="270"/><use href="#v" x="604" y="255"/><use href="#v" x="613" y="257"/><use href="#h" x="628" y="252"/><use href="#h" x="628" y="260"/><use href="#h" x="621" y="263"/><use href="#v" x="645" y="253"/><use href="#h" x="623" y="273"/><use href="#v" x="641" y="266"/><use href="#h" x="597" y="273"/><use href="#h" x="597" y="280"/><use href="#v" x="627" y="279"/><use href="#h" x="551" y="277"/><use href="#h" x="551" y="285"/><use href="#v" x="578" y="292"/><use href="#v" x="584" y="292"/><use href="#v" x="591" y="292"/><use href="#v" x="595" y="289"/>
<circle cx="525" cy="140" r="1.2" class="tl"/><circle cx="525" cy="148" r="1.2" class="tl"/><circle cx="544.5" cy="180" r="1.2" class="tl"/>

<!-- mid -->
<path d="M625 433v40M605 453h40" stroke="#7a5660" stroke-width="1.3" fill="none"/>
<use href="#h" x="595" y="445"/><use href="#h" x="595" y="453"/><use href="#h" x="611" y="444"/><use href="#h" x="611" y="451"/><use href="#h" x="572" y="459"/><use href="#h" x="572" y="470"/><use href="#v" x="576" y="475"/><use href="#h" x="577" y="488"/>
<rect x="591.5" y="484.5" width="18" height="23" class="s"/><text transform="translate(601 496) rotate(-90)" font-size="5.5">U4803</text>
<use href="#v" x="613" y="484"/><use href="#v" x="617" y="465"/><use href="#h" x="642" y="466"/><use href="#h" x="620" y="483"/><use href="#h" x="620" y="490"/><use href="#h" x="620" y="498"/><use href="#h" x="634" y="483"/><use href="#v" x="636" y="491"/><use href="#v" x="643" y="491"/><use href="#v" x="651" y="479"/><use href="#v" x="612" y="503"/><use href="#v" x="620" y="503"/>
<use href="#v" x="598" y="541"/><use href="#v" x="605" y="541"/><use href="#u" x="648" y="556"/><use href="#v" x="660" y="558"/><use href="#v" x="628" y="583"/>
<use href="#h" x="605" y="609"/><use href="#h" x="602" y="618"/><use href="#h" x="602" y="625"/><use href="#h" x="597" y="630"/><use href="#v" x="622" y="616"/><use href="#h" x="628" y="623"/>
<rect x="593.5" y="638" width="20" height="24" class="s"/><circle cx="599" cy="644" r="4" class="n"/><circle cx="608" cy="644" r="4" class="n"/><circle cx="599" cy="656" r="4" class="n"/><circle cx="608" cy="656" r="4" class="n"/>
<use href="#v" x="616" y="636"/><use href="#v" x="622" y="636"/><use href="#h" x="616" y="646"/><use href="#v" x="634" y="635"/>
<rect x="649.5" y="668" width="25" height="22" class="s"/><circle cx="656" cy="673" r="4.3" class="n"/><circle cx="668" cy="673" r="4.3" class="n"/><circle cx="656" cy="685" r="4.3" class="n"/><circle cx="668" cy="685" r="4.3" class="n"/>
<use href="#h" x="678" y="667"/><use href="#v" x="692" y="666"/><use href="#v" x="702" y="637"/><use href="#v" x="702" y="646"/><use href="#v" x="702" y="657"/><rect x="724" y="622" width="5" height="5" class="s"/>
<circle cx="756" cy="609" r="1.2" class="tl"/><circle cx="762" cy="609" r="1.2" class="tl"/><circle cx="835" cy="609" r="1.2" class="tl"/><circle cx="841" cy="609" r="1.2" class="tl"/>
<rect x="851.5" y="645.5" width="12" height="6" class="s"/><rect x="851.5" y="652" width="5" height="6" class="s"/><rect x="858" y="651" width="5.5" height="6" class="s"/><rect x="851.5" y="658.5" width="5" height="5" class="s"/><rect x="857" y="658.5" width="6.5" height="5" class="s"/><rect x="853" y="660" width="3" height="3" fill="#0b9a98"/>
<use href="#v" x="852" y="696"/>
<use href="#v" x="841" y="803"/><use href="#i" x="848" y="804"/><use href="#v" x="872" y="806"/><use href="#v" x="878" y="806"/><use href="#v" x="884" y="806"/><use href="#v" x="889" y="803"/><use href="#v" x="900" y="803"/>

<!-- top right -->
<use href="#t" x="673" y="93"/><use href="#t" x="685" y="93"/><use href="#t" x="698" y="93"/><use href="#u" x="712" y="95"/><use href="#v" x="722" y="96"/>
<use href="#f" x="720" y="51"/><use href="#c" x="718" y="62"/><text x="730" y="67" font-size="6">C360</text>
<use href="#t" x="731" y="75"/><use href="#t" x="731" y="100"/><use href="#t" x="745" y="61"/><use href="#t" x="759" y="50"/><use href="#c" x="791" y="45"/><text x="803" y="50" font-size="6">C408</text><use href="#f" x="794" y="57"/><use href="#u" x="816" y="61"/><use href="#c" x="765" y="76"/><text x="777" y="81" font-size="6">R351</text><use href="#t" x="801" y="75"/><use href="#b" x="800" y="103"/><use href="#c" x="745" y="111"/><text x="756" y="116" font-size="6">R810</text>
<use href="#h" x="836" y="83"/><use href="#h" x="836" y="90"/><use href="#h" x="836" y="98"/><use href="#h" x="836" y="104"/><use href="#h" x="836" y="110"/><use href="#h" x="836" y="117"/><use href="#h" x="836" y="123"/>
<rect x="857.5" y="89.5" width="41" height="29" class="s"/><path d="M860 91h1M896 91h1M860 97h1M896 97h1M860 103h1M896 103h1M860 116h1M896 116h1" stroke="#aaa" stroke-width="2" fill="none"/><text x="878" y="104" font-size="9">U4821</text>

<!-- MJ1000 -->
<rect x="1075.5" y="178.5" width="89" height="33" class="s"/><path d="M1103 179v32" class="s"/><circle cx="1078" cy="181" r="1.6" class="n"/><circle cx="1078" cy="209" r="1.6" class="n"/><circle cx="1134" cy="181" r="1.6" class="n"/><circle cx="1134" cy="209" r="1.6" class="n"/><circle cx="1161" cy="181" r="1.6" class="n"/><circle cx="1161" cy="209" r="1.6" class="n"/><circle cx="1106" cy="181" r="1.5" class="tl"/><circle cx="1106" cy="209" r="1.5" class="tl"/>
<text x="1120" y="195" font-size="17">MJ1000</text><text x="1136" y="195" font-size="13">1000</text>
<rect x="1029.5" y="192.5" width="33" height="37" class="s"/><circle cx="1036" cy="198" r="4.7" class="n"/><circle cx="1036" cy="206" r="4.7" class="n"/><circle cx="1036" cy="215" r="4.7" class="n"/><circle cx="1036" cy="223" r="4.7" class="n"/><circle cx="1056" cy="198" r="4.7" class="n"/><circle cx="1056" cy="206" r="4.7" class="n"/><circle cx="1056" cy="215" r="4.7" class="n"/><circle cx="1056" cy="223" r="4.7" class="n"/><text x="1046" y="211" font-size="7">U4004</text>
<use href="#v" x="1036" y="173"/><use href="#v" x="1042" y="173"/><use href="#h" x="1030" y="233"/><use href="#h" x="1045" y="233"/>
<use href="#c" x="1066" y="249"/><text x="1078" y="254" font-size="6">C411</text><use href="#c" x="1066" y="261"/><text x="1078" y="266" font-size="6">C413</text>
<use href="#v" x="1161" y="554"/><use href="#v" x="1161" y="560"/>

<!-- bottom right -->
<use href="#h" x="1000" y="675"/><use href="#v" x="1005" y="687"/><use href="#v" x="1027" y="677"/><use href="#v" x="1033" y="677"/><use href="#v" x="1027" y="692"/><use href="#v" x="1064" y="697"/><use href="#v" x="1070" y="697"/><use href="#h" x="1055" y="712"/><use href="#v" x="1070" y="713"/><use href="#v" x="1077" y="713"/><use href="#v" x="1051" y="721"/><use href="#v" x="1058" y="721"/>
<use href="#t" x="1095" y="696"/><rect x="1109.5" y="695.5" width="19" height="21" class="s"/><circle cx="1113" cy="698" r="1.8" class="n"/><circle cx="1126" cy="698" r="1.8" class="n"/><circle cx="1119" cy="713" r="1.8" class="n"/><text x="1119" y="706" font-size="6">C553</text>
<use href="#h" x="1115" y="685"/><use href="#v" x="1134" y="696"/><use href="#v" x="1142" y="696"/><use href="#h" x="1133" y="713"/><use href="#h" x="1149" y="713"/><use href="#o" x="1151" y="693"/>
<rect x="1106.5" y="726.5" width="51" height="11" class="s"/><circle cx="1112" cy="732" r="4.2" class="n"/><circle cx="1125" cy="732" r="4.2" class="n"/><circle cx="1138" cy="732" r="4.2" class="n"/><circle cx="1152" cy="732" r="4.2" class="n"/><text x="1132" y="732" font-size="7">J10</text>
<use href="#t" x="1097" y="755"/><use href="#t" x="1112" y="755"/><use href="#t" x="1126" y="755"/><use href="#t" x="1140" y="755"/><use href="#t" x="1154" y="754"/>
<circle cx="1021" cy="672" r="1.3" class="tl"/><circle cx="1170" cy="669" r="1.3" class="tl"/>
</svg>
</body></html>
